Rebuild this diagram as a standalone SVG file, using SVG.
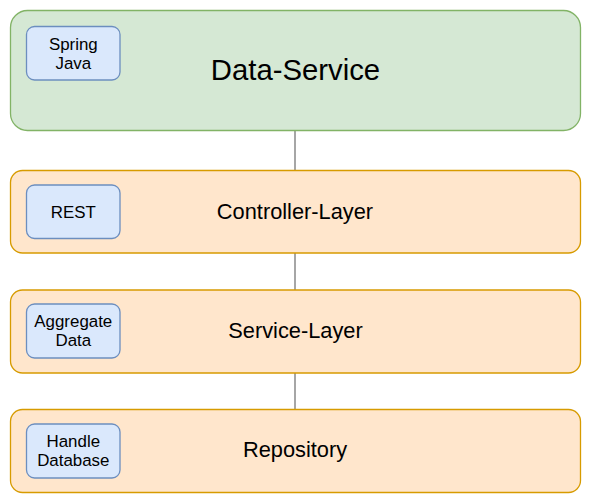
<svg xmlns="http://www.w3.org/2000/svg" width="591" height="504" viewBox="0 0 591 504">
<style>
text{font-family:"Liberation Sans",Arial,Helvetica,sans-serif;fill:#000;text-anchor:middle}
.green{fill:#d5e8d4;stroke:#82b366;stroke-width:1.3}
.orange{fill:#ffe6cc;stroke:#d79b00;stroke-width:1.3}
.blue{fill:#dae8fc;stroke:#6c8ebf;stroke-width:1.3}
.t1{font-size:29.3px}
.t2{font-size:21.8px}
.t3{font-size:16.9px}
.conn{stroke:#808080;stroke-width:1.4;fill:none}
</style>
<rect width="591" height="504" fill="#fff"/>
<g id="connectors">
<line class="conn" x1="295" y1="130.5" x2="295" y2="170.5"/>
<line class="conn" x1="295" y1="253" x2="295" y2="290"/>
<line class="conn" x1="295" y1="373" x2="295" y2="409.5"/>
</g>
<g id="data-service">
<rect class="green" x="10.5" y="10.5" width="570" height="120" rx="17" ry="17"/>
<text class="t1" x="295.5" y="79.5">Data-Service</text>
</g>
<g id="spring-java">
<rect class="blue" x="26.5" y="26.5" width="93.5" height="53.5" rx="8" ry="8"/>
<text class="t3" x="73.3" y="49.5">Spring</text>
<text class="t3" x="73.3" y="68.5">Java</text>
</g>
<g id="controller-layer">
<rect class="orange" x="10.5" y="170.5" width="570" height="82.5" rx="12" ry="12"/>
<text class="t2" x="295" y="219">Controller-Layer</text>
</g>
<g id="rest">
<rect class="blue" x="26.5" y="185" width="93.5" height="53.5" rx="8" ry="8"/>
<text class="t3" x="73.3" y="218">REST</text>
</g>
<g id="service-layer">
<rect class="orange" x="10.5" y="290" width="570" height="83" rx="12" ry="12"/>
<text class="t2" x="295.5" y="337.5">Service-Layer</text>
</g>
<g id="aggregate-data">
<rect class="blue" x="26.5" y="304" width="93.5" height="54" rx="8" ry="8"/>
<text class="t3" x="73.3" y="326.7">Aggregate</text>
<text class="t3" x="73.3" y="346">Data</text>
</g>
<g id="repository">
<rect class="orange" x="10.5" y="409.5" width="570" height="83" rx="12" ry="12"/>
<text class="t2" x="295" y="456.7">Repository</text>
</g>
<g id="handle-database">
<rect class="blue" x="26.5" y="424" width="93.5" height="54" rx="8" ry="8"/>
<text class="t3" x="73.3" y="446.7">Handle</text>
<text class="t3" x="73.3" y="466">Database</text>
</g>
</svg>
